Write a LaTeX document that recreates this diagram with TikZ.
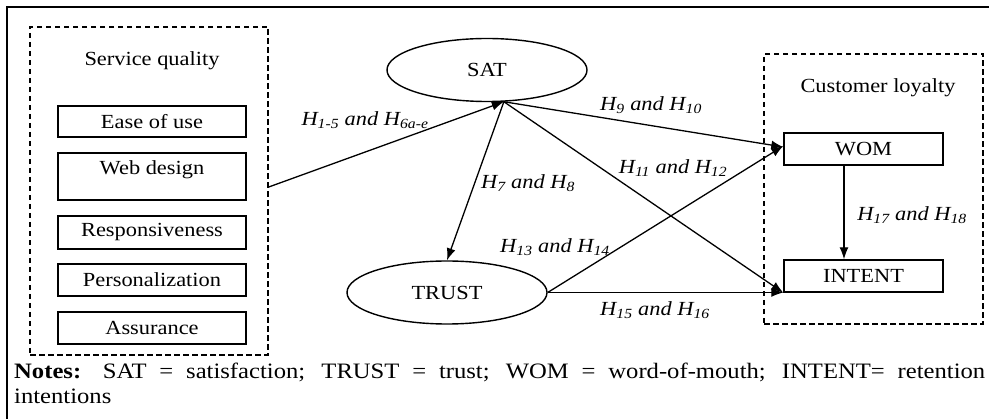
\documentclass[tikz,border=0pt]{standalone}
\usepackage{fontspec}
\setmainfont{Liberation Serif}[FakeStretch=1.12]
\usetikzlibrary{arrows.meta,shapes.geometric}
\newcommand\hsub[1]{H\textsubscript{#1}}
\newcommand\basefont{\fontsize{20}{24}\selectfont}
\tikzset{
  outerframe/.style={draw, line width=1.8pt},
  groupbox/.style={draw, dash pattern=on 5.5pt off 3.5pt, line width=1.5pt, inner sep=0pt},
  itembox/.style={draw, line width=1.4pt, minimum width=188pt, minimum height=31pt, inner sep=0pt},
  latent/.style={draw, ellipse, line width=1.4pt, minimum width=200pt, minimum height=63pt, inner sep=0pt},
  outcome/.style={draw, line width=1.4pt, minimum width=159pt, minimum height=32pt, inner sep=0pt},
  link/.style={line width=1.3pt, -{Latex[length=12pt,width=9pt]}},
  hyp/.style={font=\basefont\itshape, inner sep=1pt},
  caption/.style={inner sep=0pt, anchor=center},
  notetext/.style={inner sep=0pt, anchor=base west, font=\fontsize{22}{26}\selectfont}
}
\begin{document}
\begin{tikzpicture}[x=1pt,y=-1pt,font=\basefont]
\useasboundingbox (0,0) rectangle (989,419);
% outer frame (runs past the right and bottom edges)
\draw[outerframe] (7,430) -- (7,7) -- (1000,7);

% service quality group
\node[groupbox, minimum width=238pt, minimum height=328pt] (sq) at (149,191) {};
\node[caption] (sqtitle) at (152,61) {Service quality};
\node[itembox] (ease) at (152,121.5) {Ease of use};
\node[itembox, minimum height=47pt, text height=18pt, text depth=21pt] (web) at (152,176.5) {Web design};
\node[itembox, minimum height=33pt] (resp) at (152,232.5) {Responsiveness};
\node[itembox, minimum height=32pt] (pers) at (152,280) {Personalization};
\node[itembox, minimum height=32pt] (assu) at (152,328) {Assurance};

% latent constructs
\node[latent] (sat) at (487,70) {SAT};
\node[latent] (trust) at (447,292.5) {TRUST};

% customer loyalty group
\node[groupbox, minimum width=219pt, minimum height=270pt] (cl) at (873.5,189) {};
\node[caption] (cltitle) at (878,88) {Customer loyalty};
\node[outcome] (wom) at (863.5,149) {WOM};
\node[outcome] (intent) at (863.5,276) {INTENT};

% paths
\coordinate (hub) at (sat.-62);
\draw[link] ([yshift=4pt]sq.east) -- (hub);
\draw[link] (hub) -- ([yshift=2pt]wom.west);
\draw[link] (hub) -- (intent.south west);
\draw[link] (hub) -- (trust.north);
\draw[link] (trust.east) -- ([yshift=3pt]wom.west);
\draw[link] (trust.east) -- (trust.east -| intent.west);
\draw[link] (wom.south -| 844,0) -- (intent.north -| 844,0);

% hypothesis labels
\node[hyp] (h1) at (365,120) {\hsub{1-5} and \hsub{6a-e}};
\node[hyp] (h9) at (651,105) {\hsub{9} and \hsub{10}};
\node[hyp] (h11) at (673,168) {\hsub{11} and \hsub{12}};
\node[hyp] (h7) at (528,183) {\hsub{7} and \hsub{8}};
\node[hyp] (h13) at (555,247) {\hsub{13} and \hsub{14}};
\node[hyp] (h15) at (655,310) {\hsub{15} and \hsub{16}};
\node[hyp] (h17) at (912,215) {\hsub{17} and \hsub{18}};

% notes
\node[notetext] (notes1) at (14,379)
  {\hbox to 971pt{\textbf{Notes:} SAT = satisfaction; TRUST = trust; WOM = word-of-mouth; INTENT= retention}};
\node[notetext] (notes2) at (14,404) {intentions};
\end{tikzpicture}
\end{document}
